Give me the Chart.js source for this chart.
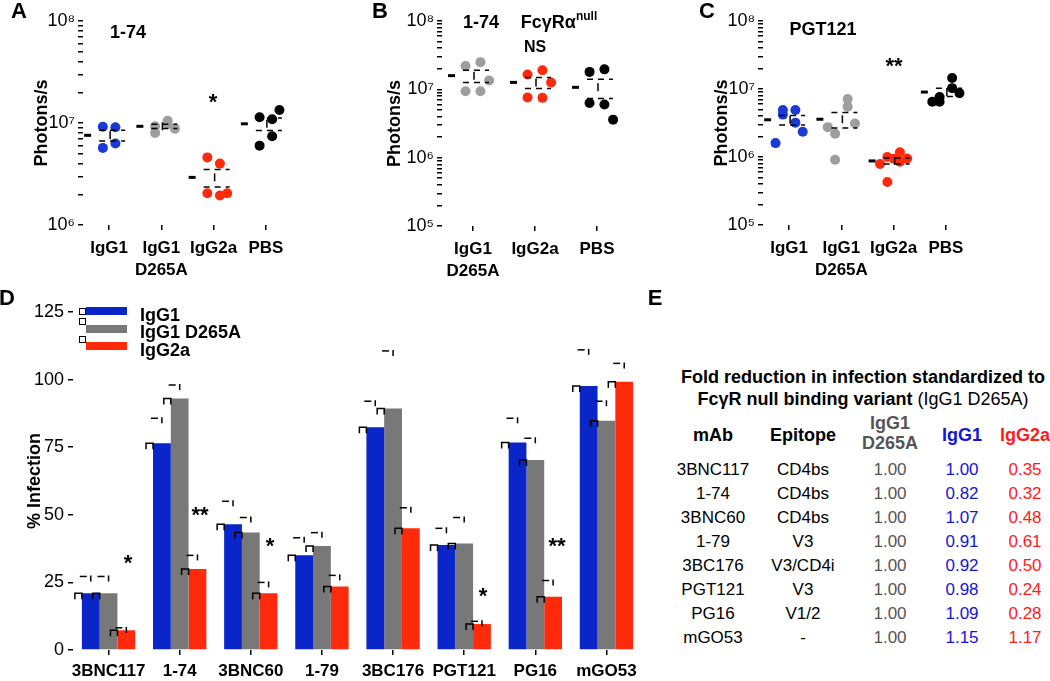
<!DOCTYPE html>
<html>
<head>
<meta charset="utf-8">
<script src="https://cdn.jsdelivr.net/npm/chart.js@4/dist/chart.umd.min.js"></script>
<style>
body { margin: 0; background: #fff; font-family: 'Liberation Sans', Arial, Helvetica, sans-serif; }
#page { position: relative; width: 1050px; height: 681px; overflow: hidden; }
canvas { position: absolute; }
.t { position: absolute; white-space: nowrap; color: #000; line-height: 1; }
.c { transform: translate(-50%, -50%); }
.l { transform: translate(0, -50%); }
.b { font-weight: bold; }
.panel { font-size: 22px; font-weight: bold; }
.box { position: absolute; width: 5px; height: 5px; border: 1.5px solid #000; background: #fff; }
.bar { position: absolute; width: 41px; height: 8px; }
</style>
</head>
<body>
<div id="page">
  <canvas id="chartA" width="300" height="290" style="left:0;top:0"></canvas>
  <canvas id="chartB" width="300" height="290" style="left:340px;top:0"></canvas>
  <canvas id="chartC" width="300" height="290" style="left:680px;top:0"></canvas>
  <canvas id="chartD" width="650" height="391" style="left:0;top:290px"></canvas>
</div>
<script>
// ---- dados ----
// A: 1-74
const catsA = [['IgG1'], ['IgG1', 'D265A'], ['IgG2a'], ['PBS']];
const a_IgG1 = [9.2e6, 9.1e6, 5.7e6, 6.3e6];
const a_D265A = [9.3e6, 1.05e7, 8.0e6, 9.8e6, 8.8e6];
const a_IgG2a = [4.6e6, 4.0e6, 2.05e6, 1.95e6, 2.05e6];
const a_PBS = [1.14e7, 1.09e7, 6.0e6, 7.4e6, 1.34e7];

// B: 1-74 FcγRα null
const catsB = [['IgG1', 'D265A'], ['IgG2a'], ['PBS']];
const b_D265A = [2.2e7, 2.5e7, 9.4e6, 9.4e6, 1.35e7];
const b_IgG2a = [1.65e7, 1.9e7, 7.6e6, 7.5e6, 1.26e7];
const b_PBS = [1.8e7, 1.96e7, 6.3e6, 6.0e6, 3.6e6];

// C: PGT121
const catsC = [['IgG1'], ['IgG1', 'D265A'], ['IgG2a'], ['PBS']];
const c_IgG1 = [4.9e6, 4.9e6, 4.2e6, 3.2e6, 2.35e6, 1.6e6];
const c_D265A = [2.2e6, 5.5e6, 9.1e5, 7.1e6, 3.1e6, 2.75e6];
const c_IgG2a = [1.0e6, 1.17e6, 4.3e5, 8.5e5, 9.5e5, 7.9e5, 9.4e5];
const c_PBS = [7.6e6, 1.45e7, 6.5e6, 1.03e7, 8.7e6, 6.5e6];

// D: % infection
const mabs = ['3BNC117', '1-74', '3BNC60', '1-79', '3BC176', 'PGT121', 'PG16', 'mGO53'];
const infIgG1 = [21, 76.5, 46.5, 35, 82.4, 38.8, 76.7, 97.6];
const infD265A = [21, 93, 43.5, 38.5, 89.3, 39.4, 70.3, 84.8];
const infIgG2a = [7.3, 30, 21, 23.5, 45, 9.6, 19.7, 99.2];
const errIgG1 = [27.2, 85.7, 55, 41.5, 92, 45, 85.7, 111];
const errD265A = [27.2, 98, 49, 43.4, 110.6, 49, 78.3, 92];
const errIgG2a = [8.2, 35, 25, 27.6, 52.6, 10.6, 25.7, 106];
const yTicksD = [0, 25, 50, 75, 100, 125];

// E: tabela
const epitopes = ['CD4bs', 'CD4bs', 'CD4bs', 'V3', 'V3/CD4i', 'V3', 'V1/2', '-'];
const foldD265A = [1.00, 1.00, 1.00, 1.00, 1.00, 1.00, 1.00, 1.00];
const foldIgG1 = [1.00, 0.82, 1.07, 0.91, 0.92, 0.98, 1.09, 1.15];
const foldIgG2a = [0.35, 0.32, 0.48, 0.61, 0.50, 0.24, 0.28, 1.17];

// ---- estilos ----
const BLUE = '#0a26c8', BAR_GRAY = '#787878', RED = '#ff2a0c', DOT_GRAY = '#9e9e9e', DOT_BLUE = '#1a3ad6';
const FONT = "'Liberation Sans', Arial, Helvetica, sans-serif";
Chart.defaults.font.family = FONT;
Chart.defaults.color = '#000';

const JIT = [-0.12, 0.12, -0.12, 0.12, 0.26, -0.26, 0];
const SUP = { '5': '⁵', '6': '⁶', '7': '⁷', '8': '⁸' };

function logTicks(scale) {
    const lo = Math.round(Math.log10(scale.min)), hi = Math.round(Math.log10(scale.max));
    const t = [];
    for (let e = lo; e < hi; e++) {
        for (let s = 1; s < 10; s++) t.push({ value: s * Math.pow(10, e) });
    }
    t.push({ value: Math.pow(10, hi) });
    scale.ticks = t;
}
function decadeLabel(v) {
    const e = Math.log10(v);
    if (Math.abs(e - Math.round(e)) > 1e-6) return '';
    return '10' + SUP[String(Math.round(e))];
}
function seg(ctx, x1, y1, x2, y2) {
    ctx.beginPath(); ctx.moveTo(x1, y1); ctx.lineTo(x2, y2); ctx.stroke();
}

// média e EPM por grupo
const meanMarks = {
    id: 'meanMarks',
    afterDatasetsDraw(chart) {
        const { ctx, scales: { x, y } } = chart;
        ctx.save();
        ctx.strokeStyle = '#000';
        chart.data.datasets.forEach((ds, i) => {
            const vals = ds.data.map(p => p.y);
            const m = vals.reduce((a, b) => a + b, 0) / vals.length;
            const sd = Math.sqrt(vals.reduce((a, b) => a + (b - m) * (b - m), 0) / (vals.length - 1));
            const se = sd / Math.sqrt(vals.length);
            const cx = x.getPixelForValue(i + 1);
            const ym = y.getPixelForValue(m), yh = y.getPixelForValue(m + se), yl = y.getPixelForValue(m - se);
            ctx.lineWidth = 3;
            seg(ctx, cx - 25, ym, cx - 18, ym);
            ctx.lineWidth = 1.5;
            ctx.setLineDash([6, 5]);
            seg(ctx, cx - 10, yh, cx + 16, yh);
            seg(ctx, cx - 10, yl, cx + 16, yl);
            ctx.setLineDash([]);
            seg(ctx, cx + 1, ym - 4, cx + 1, ym + 4);
        });
        ctx.restore();
    }
};

function scatterPanel(id, cats, groups, colors, yMin, yMax, lay) {
    new Chart(document.getElementById(id), {
        type: 'scatter',
        data: {
            datasets: groups.map((vals, g) => ({
                data: vals.map((v, j) => ({ x: g + 1 + JIT[j % JIT.length], y: v })),
                backgroundColor: colors[g],
                borderColor: colors[g],
                borderWidth: 0,
                pointRadius: 5,
                pointHoverRadius: 5
            }))
        },
        options: {
            responsive: false,
            animation: false,
            devicePixelRatio: 1,
            layout: { padding: { top: lay.top, right: lay.right, left: 0, bottom: 0 } },
            plugins: { legend: { display: false }, tooltip: { enabled: false } },
            scales: {
                x: {
                    type: 'linear', min: 0.5, max: cats.length + 0.5,
                    afterBuildTicks: s => { s.ticks = cats.map((c, i) => ({ value: i + 1 })); },
                    afterFit: s => { s.height = lay.xh; },
                    border: { display: false },
                    grid: { drawOnChartArea: false, tickLength: 5, color: '#000', lineWidth: 1.5 },
                    ticks: {
                        autoSkip: false, maxRotation: 0, padding: 7,
                        font: { size: 17, weight: 'bold', lineHeight: 1.3 },
                        callback: v => cats[Math.round(v) - 1]
                    }
                },
                y: {
                    type: 'logarithmic', min: yMin, max: yMax,
                    afterBuildTicks: logTicks,
                    afterFit: s => { s.width = lay.yw; },
                    border: { display: false },
                    grid: { drawOnChartArea: false, tickLength: 5, color: '#000', lineWidth: 1.5 },
                    ticks: { autoSkip: false, padding: 3, font: { size: 18 }, callback: decadeLabel },
                    title: { display: true, text: 'Photons/s', font: { size: 18, weight: 'bold' }, padding: { top: lay.tp, bottom: 0 } }
                }
            }
        },
        plugins: [meanMarks]
    });
}

scatterPanel('chartA', catsA, [a_IgG1, a_D265A, a_IgG2a, a_PBS], [DOT_BLUE, DOT_GRAY, RED, '#000'],
    1e6, 1e8, { top: 21, right: 8, xh: 65, yw: 83, tp: 31 });
scatterPanel('chartB', catsB, [b_D265A, b_IgG2a, b_PBS], [DOT_GRAY, RED, '#000'],
    1e5, 1e8, { top: 21, right: 12, xh: 64, yw: 102, tp: 44 });
scatterPanel('chartC', catsC, [c_IgG1, c_D265A, c_IgG2a, c_PBS], [DOT_BLUE, DOT_GRAY, RED, '#000'],
    1e5, 1e8, { top: 21, right: 8, xh: 65, yw: 83, tp: 31 });

// ---- D: barras agrupadas ----
const errSets = [errIgG1, errD265A, errIgG2a];
const errMarks = {
    id: 'errMarks',
    afterDatasetsDraw(chart) {
        const { ctx, scales: { y } } = chart;
        ctx.save();
        ctx.strokeStyle = '#000';
        ctx.lineWidth = 1.5;
        chart.data.datasets.forEach((ds, i) => {
            chart.getDatasetMeta(i).data.forEach((bar, j) => {
                const ye = y.getPixelForValue(errSets[i][j]);
                seg(ctx, bar.x - 11, ye, bar.x - 4, ye);
                seg(ctx, bar.x, ye - 1, bar.x, ye + 5);
                const x0 = bar.x - bar.width / 2;
                ctx.beginPath();
                ctx.moveTo(x0 - 7, bar.y + 6);
                ctx.lineTo(x0 - 7, bar.y);
                ctx.lineTo(x0, bar.y);
                ctx.lineTo(x0, bar.y + 6);
                ctx.stroke();
            });
        });
        ctx.restore();
    }
};

new Chart(document.getElementById('chartD'), {
    type: 'bar',
    data: {
        labels: mabs,
        datasets: [
            { label: 'IgG1', data: infIgG1, backgroundColor: BLUE },
            { label: 'IgG1 D265A', data: infD265A, backgroundColor: BAR_GRAY },
            { label: 'IgG2a', data: infIgG2a, backgroundColor: RED }
        ]
    },
    options: {
        responsive: false,
        animation: false,
        devicePixelRatio: 1,
        categoryPercentage: 0.75,
        barPercentage: 1,
        layout: { padding: { top: 22, right: 8, left: 0, bottom: 0 } },
        plugins: { legend: { display: false }, tooltip: { enabled: false } },
        scales: {
            x: {
                afterFit: s => { s.height = 31; },
                border: { display: false },
                grid: { offset: false, drawOnChartArea: false, tickLength: 5, color: '#000', lineWidth: 1.5 },
                ticks: { autoSkip: false, maxRotation: 0, padding: 6, font: { size: 17, weight: 'bold' } }
            },
            y: {
                min: 0, max: 125,
                afterBuildTicks: s => { s.ticks = yTicksD.map(v => ({ value: v })); },
                afterFit: s => { s.width = 73; },
                border: { display: false },
                grid: { drawOnChartArea: false, tickLength: 5, color: '#000', lineWidth: 1.5 },
                ticks: { padding: 4, font: { size: 18 } },
                title: { display: true, text: '% Infection', font: { size: 18, weight: 'bold' }, padding: { top: 24, bottom: 0 } }
            }
        }
    },
    plugins: [errMarks]
});

// ---- textos soltos ----
const page = document.getElementById('page');
function txt(html, x, y, cls, style) {
    const d = document.createElement('div');
    d.className = 't ' + (cls || 'c');
    d.innerHTML = html;
    d.style.left = x + 'px';
    d.style.top = y + 'px';
    if (style) d.style.cssText += style;
    page.appendChild(d);
    return d;
}

// letras dos painéis
txt('A', 19, 11, 'c panel');
txt('B', 380, 11, 'c panel');
txt('C', 707, 11, 'c panel');
txt('D', 7, 298, 'c panel');
txt('E', 655, 298, 'c panel');

// títulos e significância
txt('1-74', 128, 32, 'c b', 'font-size:18px');
txt('1-74', 481, 22, 'c b', 'font-size:18px');
txt('FcγRα<sup style="font-size:12px;vertical-align:8px">null</sup>', 559, 20, 'c b', 'font-size:18px');
txt('PGT121', 823, 29, 'c b', 'font-size:18px');
txt('*', 213, 102, 'c b', 'font-size:22px');
txt('NS', 535, 47, 'c b', 'font-size:16px');
txt('**', 894, 66, 'c b', 'font-size:22px');

const starsD = [['*', 128, 563], ['**', 200, 515], ['*', 270, 546], ['*', 483, 596], ['**', 557, 546]];
starsD.forEach(s => txt(s[0], s[1], s[2], 'c b', 'font-size:22px'));

// legenda D
[[BLUE, 307, 308, 315, 'IgG1'], [BAR_GRAY, 325, 318, 332, 'IgG1 D265A'], [RED, 342, 336, 350, 'IgG2a']].forEach(r => {
    const bar = document.createElement('div');
    bar.className = 'bar';
    bar.style.cssText += `left:86px;top:${r[1]}px;background:${r[0]}`;
    page.appendChild(bar);
    const box = document.createElement('div');
    box.className = 'box';
    box.style.cssText += `left:79px;top:${r[2]}px`;
    page.appendChild(box);
    txt(r[4], 140, r[3], 'l b', 'font-size:18px');
});

// ---- E: tabela ----
txt('Fold reduction in infection standardized to', 863, 377, 'c b', 'font-size:18px');
txt('<b>FcγR null binding variant</b> (IgG1 D265A)', 863, 399, 'c', 'font-size:18px');
const colX = [713, 803, 890, 962, 1025];
txt('mAb', colX[0], 435, 'c b', 'font-size:18px');
txt('Epitope', colX[1], 435, 'c b', 'font-size:18px');
txt('IgG1', colX[2], 423, 'c b', 'font-size:18px;color:#555');
txt('D265A', colX[2], 443, 'c b', 'font-size:18px;color:#555');
txt('IgG1', colX[3], 435, 'c b', 'font-size:18px;color:#1414d8');
txt('IgG2a', colX[4], 435, 'c b', 'font-size:18px;color:#ff1a1a');
mabs.forEach((m, i) => {
    const y = 469 + i * 24;
    txt(m, colX[0], y, 'c', 'font-size:17px');
    txt(epitopes[i], colX[1], y, 'c', 'font-size:17px');
    txt(foldD265A[i].toFixed(2), colX[2], y, 'c', 'font-size:17px;color:#555');
    txt(foldIgG1[i].toFixed(2), colX[3], y, 'c', 'font-size:17px;color:#1414d8');
    txt(foldIgG2a[i].toFixed(2), colX[4], y, 'c', 'font-size:17px;color:#ff1a1a');
});
</script>
</body>
</html>
